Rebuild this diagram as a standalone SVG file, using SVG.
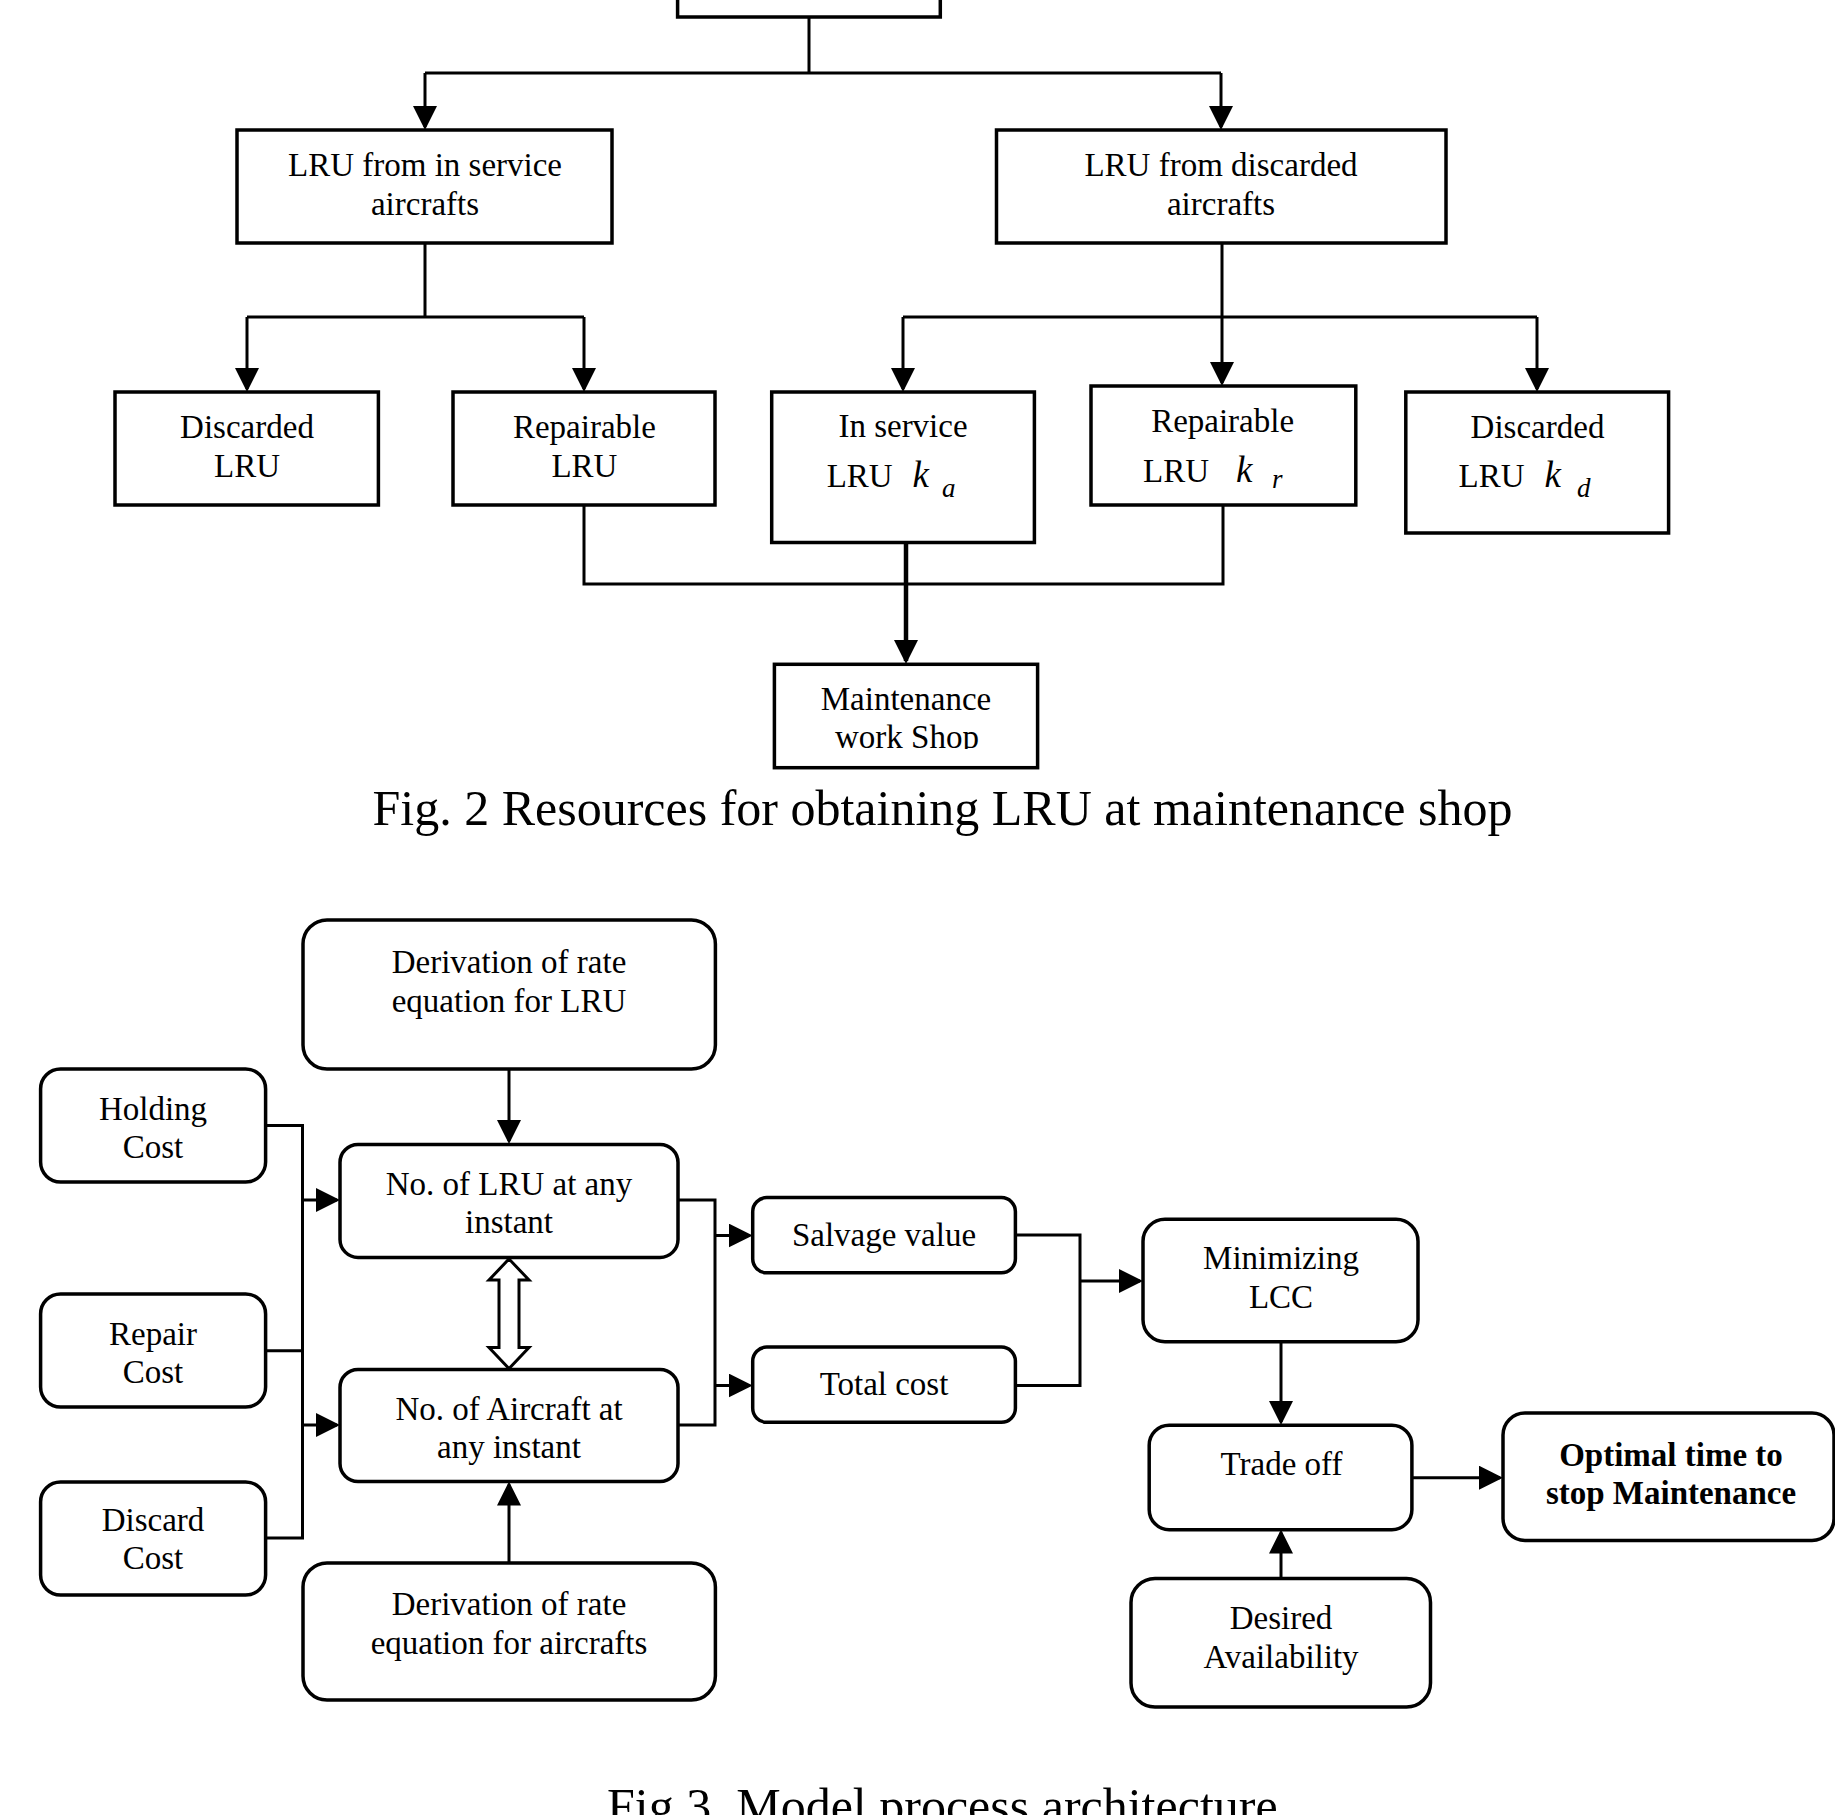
<svg xmlns="http://www.w3.org/2000/svg" width="1835" height="1815" viewBox="0 0 1835 1815">
<style>
.box{fill:#fff;stroke:#000;stroke-width:3.5}
.c{fill:none;stroke:#000;stroke-width:3}
.t{font-family:"Liberation Serif","Times New Roman",serif;font-size:33px;text-anchor:middle;fill:#000}
.s{font-family:"Liberation Serif","Times New Roman",serif;font-size:33px;fill:#000}
.k{font-family:"Liberation Serif","Times New Roman",serif;font-style:italic;font-size:37px;fill:#000}
.sub{font-family:"Liberation Serif","Times New Roman",serif;font-style:italic;font-size:27px;fill:#000}
.b{font-weight:bold}
.cap{font-family:"Liberation Serif","Times New Roman",serif;font-size:50px;fill:#000}
</style>
<defs>
<marker id="ah" markerUnits="userSpaceOnUse" markerWidth="24" markerHeight="24" viewBox="0 0 24 24" refX="21" refY="12" orient="auto">
<path d="M0,0 L24,12 L0,24 z" fill="#000"/>
</marker>
<clipPath id="wsclip"><rect x="770" y="660" width="270" height="89"/></clipPath>
</defs>
<rect width="1835" height="1815" fill="#fff"/>

<g id="connectors">
<!-- Fig 2 -->
<path class="c" d="M809,17 V73 M425,73 H1221"/>
<path class="c" d="M425,73 V127" marker-end="url(#ah)"/>
<path class="c" d="M1221,73 V127" marker-end="url(#ah)"/>
<path class="c" d="M425,243 V317 M247,317 H584"/>
<path class="c" d="M247,317 V389" marker-end="url(#ah)"/>
<path class="c" d="M584,317 V389" marker-end="url(#ah)"/>
<path class="c" d="M1222,243 V317 M903,317 H1537"/>
<path class="c" d="M903,317 V389" marker-end="url(#ah)"/>
<path class="c" d="M1222,317 V383" marker-end="url(#ah)"/>
<path class="c" d="M1537,317 V389" marker-end="url(#ah)"/>
<path class="c" d="M584,505 V584 H1223 V505"/>
<path class="c" style="stroke-width:4.5" d="M906,542 V661" marker-end="url(#ah)"/>
<!-- Fig 3 -->
<path class="c" d="M266,1125.6 H302.5 M266,1350.7 H302.5 M266,1538 H302.5 M302.5,1124 V1539.5"/>
<path class="c" d="M302.5,1200 H337" marker-end="url(#ah)"/>
<path class="c" d="M302.5,1425 H337" marker-end="url(#ah)"/>
<path class="c" d="M509,1069 V1141" marker-end="url(#ah)"/>
<path class="c" d="M509,1563 V1484.5" marker-end="url(#ah)"/>
<path class="c" d="M678,1200 H715 V1425 H678"/>
<path class="c" d="M715,1235.5 H749.7" marker-end="url(#ah)"/>
<path class="c" d="M715,1385.5 H749.7" marker-end="url(#ah)"/>
<path class="c" d="M1015,1235 H1080 V1385.5 H1015"/>
<path class="c" d="M1080,1281 H1140" marker-end="url(#ah)"/>
<path class="c" d="M1281,1341.7 V1422" marker-end="url(#ah)"/>
<path class="c" d="M1281,1578.5 V1532.5" marker-end="url(#ah)"/>
<path class="c" d="M1412,1477.7 H1500" marker-end="url(#ah)"/>
<polygon class="box" style="stroke-width:3" points="509,1259 529,1280 519,1280 519,1347.5 529,1347.5 509,1368.5 489,1347.5 499,1347.5 499,1280 489,1280"/>
</g>

<!-- Fig 2 nodes -->
<g id="top-box"><rect class="box" x="677.6" y="-20" width="262.7" height="37"/></g>
<g id="lru-inservice-aircrafts">
<rect class="box" x="237" y="130" width="375" height="113"/>
<text class="t" x="425" y="175.6">LRU from in service</text>
<text class="t" x="425" y="215">aircrafts</text>
</g>
<g id="lru-discarded-aircrafts">
<rect class="box" x="996.5" y="130" width="449.5" height="113"/>
<text class="t" x="1221" y="175.6">LRU from discarded</text>
<text class="t" x="1221" y="215">aircrafts</text>
</g>
<g id="discarded-lru-left">
<rect class="box" x="115" y="392" width="263.4" height="113"/>
<text class="t" x="247" y="438.4">Discarded</text>
<text class="t" x="247" y="476.6">LRU</text>
</g>
<g id="repairable-lru-left">
<rect class="box" x="453" y="392" width="262" height="113"/>
<text class="t" x="584.4" y="438.4">Repairable</text>
<text class="t" x="584.4" y="476.6">LRU</text>
</g>
<g id="inservice-lru-ka">
<rect class="box" x="771.7" y="392" width="262.7" height="150.5"/>
<text class="t" x="903" y="437.3">In service</text>
<text class="s" x="826.7" y="487.3">LRU</text>
<text class="k" x="912.5" y="487.3">k</text>
<text class="sub" x="942" y="497.3">a</text>
</g>
<g id="repairable-lru-kr">
<rect class="box" x="1091" y="386" width="264.8" height="119"/>
<text class="t" x="1222.6" y="432">Repairable</text>
<text class="s" x="1143" y="482">LRU</text>
<text class="k" x="1236" y="482">k</text>
<text class="sub" x="1272" y="488">r</text>
</g>
<g id="discarded-lru-kd">
<rect class="box" x="1405.8" y="392" width="262.8" height="141"/>
<text class="t" x="1537.5" y="438.4">Discarded</text>
<text class="s" x="1458.6" y="487.3">LRU</text>
<text class="k" x="1544.5" y="487.3">k</text>
<text class="sub" x="1577" y="497.3">d</text>
</g>
<g id="maintenance-work-shop">
<rect class="box" x="774.4" y="664.3" width="263.2" height="103.4"/>
<text class="t" x="906" y="710">Maintenance</text>
<text class="t" x="907" y="748.3" clip-path="url(#wsclip)">work Shop</text>
</g>
<text class="cap" x="942.5" y="825" text-anchor="middle">Fig. 2 Resources for obtaining LRU at maintenance shop</text>

<!-- Fig 3 nodes -->
<g id="deriv-lru">
<rect class="box" x="303" y="920" width="412.4" height="149" rx="24"/>
<text class="t" x="509" y="973">Derivation of rate</text>
<text class="t" x="509" y="1012">equation for LRU</text>
</g>
<g id="holding-cost">
<rect class="box" x="40.6" y="1069" width="225" height="113" rx="20"/>
<text class="t" x="153" y="1120.4">Holding</text>
<text class="t" x="153" y="1158">Cost</text>
</g>
<g id="repair-cost">
<rect class="box" x="40.6" y="1294" width="225" height="113" rx="20"/>
<text class="t" x="153" y="1345">Repair</text>
<text class="t" x="153" y="1383">Cost</text>
</g>
<g id="discard-cost">
<rect class="box" x="40.6" y="1482" width="225" height="113" rx="20"/>
<text class="t" x="153" y="1531.4">Discard</text>
<text class="t" x="153" y="1569.2">Cost</text>
</g>
<g id="no-lru">
<rect class="box" x="340" y="1144.4" width="338" height="113" rx="18"/>
<text class="t" x="509" y="1195">No. of LRU at any</text>
<text class="t" x="509" y="1232.7">instant</text>
</g>
<g id="no-aircraft">
<rect class="box" x="340" y="1369.5" width="338" height="112" rx="18"/>
<text class="t" x="509" y="1420">No. of Aircraft at</text>
<text class="t" x="509" y="1457.8">any instant</text>
</g>
<g id="deriv-aircraft">
<rect class="box" x="303" y="1563" width="412.4" height="137" rx="24"/>
<text class="t" x="509" y="1615">Derivation of rate</text>
<text class="t" x="509" y="1653.7">equation for aircrafts</text>
</g>
<g id="salvage-value">
<rect class="box" x="752.7" y="1197.6" width="262.7" height="75.2" rx="14"/>
<text class="t" x="884" y="1245.6">Salvage value</text>
</g>
<g id="total-cost">
<rect class="box" x="752.7" y="1347.1" width="262.7" height="75.2" rx="14"/>
<text class="t" x="884" y="1395.2">Total cost</text>
</g>
<g id="minimizing-lcc">
<rect class="box" x="1143" y="1219.3" width="275" height="122.4" rx="22"/>
<text class="t" x="1281" y="1269.4">Minimizing</text>
<text class="t" x="1281" y="1308.3">LCC</text>
</g>
<g id="trade-off">
<rect class="box" x="1149.2" y="1425.2" width="262.7" height="104.5" rx="20"/>
<text class="t" x="1281.5" y="1475.4">Trade off</text>
</g>
<g id="desired-availability">
<rect class="box" x="1131" y="1578.5" width="299.5" height="128.5" rx="24"/>
<text class="t" x="1281" y="1628.7">Desired</text>
<text class="t" x="1281" y="1667.5">Availability</text>
</g>
<g id="optimal-time">
<rect class="box" x="1503" y="1413" width="331" height="127.5" rx="22"/>
<text class="t b" x="1671" y="1466">Optimal time to</text>
<text class="t b" x="1671" y="1504">stop Maintenance</text>
</g>
<text class="cap" x="607" y="1823">Fig 3. Model process architecture</text>
</svg>
